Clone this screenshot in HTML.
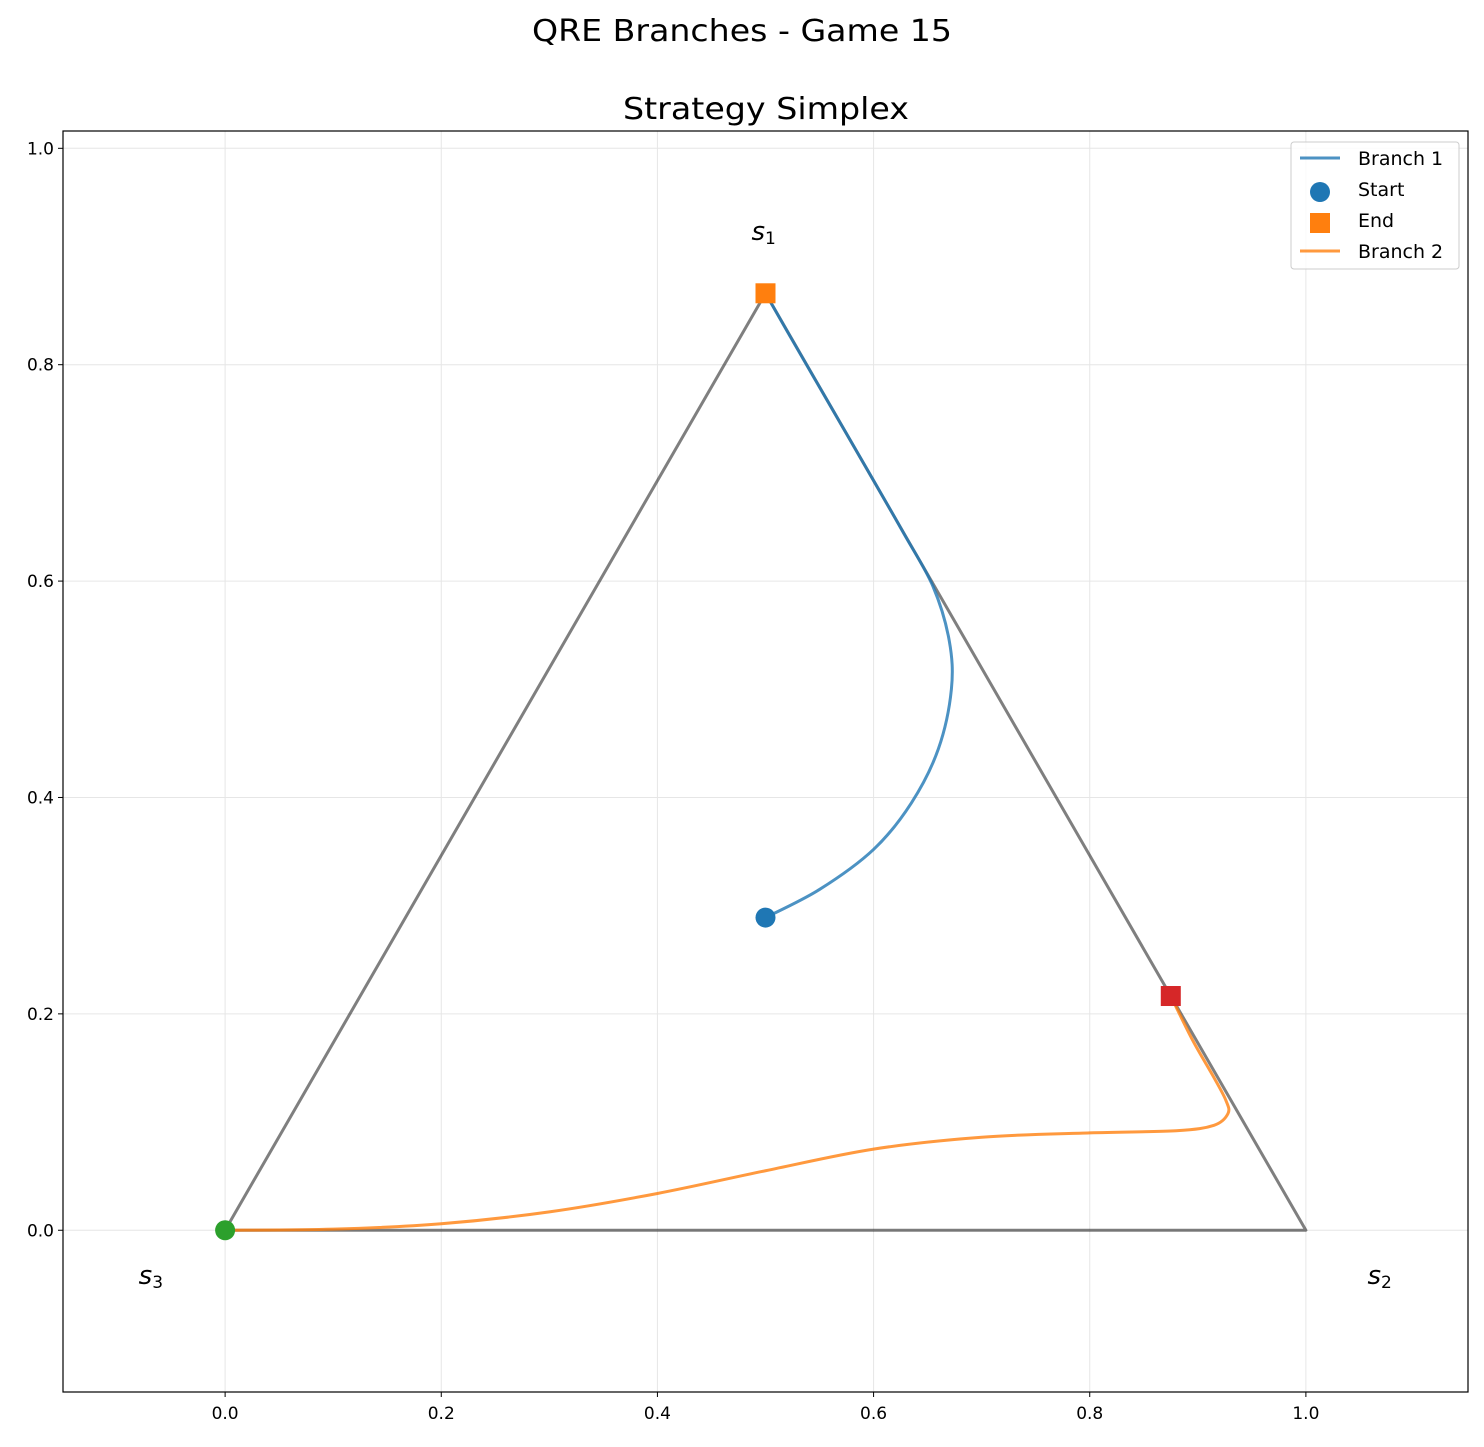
<!DOCTYPE html>
<html><head><meta charset="utf-8"><style>
body{margin:0;background:#fff;font-family:"DejaVu Sans","Liberation Sans",sans-serif}
</style></head><body>
<svg id="c" width="1484" height="1443" xmlns="http://www.w3.org/2000/svg" font-family="DejaVu Sans, Liberation Sans, sans-serif"></svg>
<script>
const xTicks=[0.0,0.2,0.4,0.6,0.8,1.0];
const yTicks=[0.0,0.2,0.4,0.6,0.8,1.0];
const branch1X=[0.5,0.55,0.6,0.635,0.66,0.672,0.67,0.655,0.628,0.6,0.56,0.52,0.5];
const branch1Y=[0.289,0.315,0.352,0.395,0.445,0.5,0.545,0.595,0.644,0.693,0.762,0.831,0.866];
const branch2X=[0,0.1,0.2,0.3,0.4,0.5,0.6,0.7,0.8,0.88,0.915,0.928,0.926,0.915,0.895,0.875];
const branch2Y=[0,0.001,0.006,0.017,0.034,0.055,0.075,0.086,0.09,0.092,0.097,0.108,0.12,0.141,0.176,0.2165];
const simplexX=[0.5,1,0,0.5];
const simplexY=[0.866,0,0,0.866];
const L=63,R=1468,T=131,B=1392,x0=-0.15,x1=1.15,y0=-0.1495,y1=1.016;
const sx=v=>L+(v-x0)/(x1-x0)*(R-L), sy=v=>B-(v-y0)/(y1-y0)*(B-T);
const svg=document.getElementById('c');const NS='http://www.w3.org/2000/svg';
function mk(t,a,p){const e=document.createElementNS(NS,t);for(const k in a)e.setAttribute(k,a[k]);(p||svg).appendChild(e);return e;}
function txt(s,a){const e=mk('text',a);e.textContent=s;return e;}
let e;
e=txt('QRE Branches - Game 15',{x:742,y:41,'text-anchor':'middle','font-size':30,textLength:420,lengthAdjust:'spacingAndGlyphs'});


e=txt('Strategy Simplex',{x:766,y:119,'text-anchor':'middle','font-size':30,textLength:286,lengthAdjust:'spacingAndGlyphs'});


xTicks.forEach(v=>{mk('line',{x1:sx(v),x2:sx(v),y1:T,y2:B,stroke:'#e6e6e6','stroke-width':1});
mk('line',{x1:sx(v),x2:sx(v),y1:B,y2:B+5,stroke:'#000'});
e=txt(v.toFixed(1),{x:sx(v),y:B+27,'text-anchor':'middle','font-size':17});

});
yTicks.forEach(v=>{mk('line',{x1:L,x2:R,y1:sy(v),y2:sy(v),stroke:'#e6e6e6','stroke-width':1});
mk('line',{x1:L-5,x2:L,y1:sy(v),y2:sy(v),stroke:'#000'});
e=txt(v.toFixed(1),{x:L-9,y:sy(v)+6,'text-anchor':'end','font-size':17});

});
const pts=(X,Y)=>X.map((v,i)=>sx(v)+','+sy(Y[i])).join(' ');
function smooth(X,Y){const P=X.map((v,i)=>[sx(v),sy(Y[i])]);let d='M'+P[0][0]+','+P[0][1];
for(let i=0;i<P.length-1;i++){const p0=P[Math.max(0,i-1)],p1=P[i],p2=P[i+1],p3=P[Math.min(P.length-1,i+2)];
const c1=[p1[0]+(p2[0]-p0[0])/6,p1[1]+(p2[1]-p0[1])/6],c2=[p2[0]-(p3[0]-p1[0])/6,p2[1]-(p3[1]-p1[1])/6];
d+=' C'+c1+' '+c2+' '+p2;}return d;}
e=mk('polyline',{points:pts(simplexX,simplexY),fill:'none',stroke:'#000','stroke-opacity':0.5,'stroke-width':3,'stroke-linejoin':'round'});


e=mk('path',{d:smooth(branch1X,branch1Y),fill:'none',stroke:'#1f77b4','stroke-opacity':0.8,'stroke-width':3});


e=mk('path',{d:smooth(branch2X,branch2Y),fill:'none',stroke:'#ff7f0e','stroke-opacity':0.8,'stroke-width':3});


function circ(x,y,c,n){const m=mk('circle',{cx:sx(x),cy:sy(y),r:10,fill:c});}
function sq(x,y,c,n){const m=mk('rect',{x:sx(x)-10,y:sy(y)-10,width:20,height:20,fill:c});}
circ(branch1X[0],branch1Y[0],'#1f77b4','branch-1-start');
sq(branch1X[branch1X.length-1],branch1Y[branch1Y.length-1],'#ff7f0e','branch-1-end');
circ(branch2X[0],branch2Y[0],'#2ca02c','branch-2-start');
sq(branch2X[branch2X.length-1],branch2Y[branch2Y.length-1],'#d62728','branch-2-end');
function lab(s,x,y,n){const t=mk('text',{x:sx(x)-4,y:sy(y)+5,'text-anchor':'middle','font-size':26,'font-style':'italic'});t.textContent=s;
const sub=mk('tspan',{'font-size':17,dy:4,'font-style':'normal'},t);sub.textContent=n;
}
lab('s',0.502,0.92,'1');lab('s',-0.065,-0.045,'3');lab('s',1.072,-0.045,'2');
e=mk('rect',{x:L,y:T,width:R-L,height:B-T,fill:'none',stroke:'#000','stroke-width':1.2});


const lg=mk('g',{});
mk('rect',{x:1291,y:142,width:168,height:127,rx:3,fill:'#fff','fill-opacity':0.8,stroke:'#ccc'},lg);
const items=[['Branch 1','line','#1f77b4'],['Start','circle','#1f77b4'],['End','square','#ff7f0e'],['Branch 2','line','#ff7f0e']];
items.forEach((it,i)=>{const y=158+i*31;
if(it[1]=='line')mk('line',{x1:1300,x2:1340,y1:y,y2:y,stroke:it[2],'stroke-opacity':0.8,'stroke-width':3},lg);
else if(it[1]=='circle')mk('circle',{cx:1320,cy:y+3,r:10,fill:it[2]},lg);
else mk('rect',{x:1310,y:y-7,width:20,height:20,fill:it[2]},lg);
const t=mk('text',{x:1358,y:y+7,'font-size':19},lg);t.textContent=it[0];
});
</script>
</body></html>
